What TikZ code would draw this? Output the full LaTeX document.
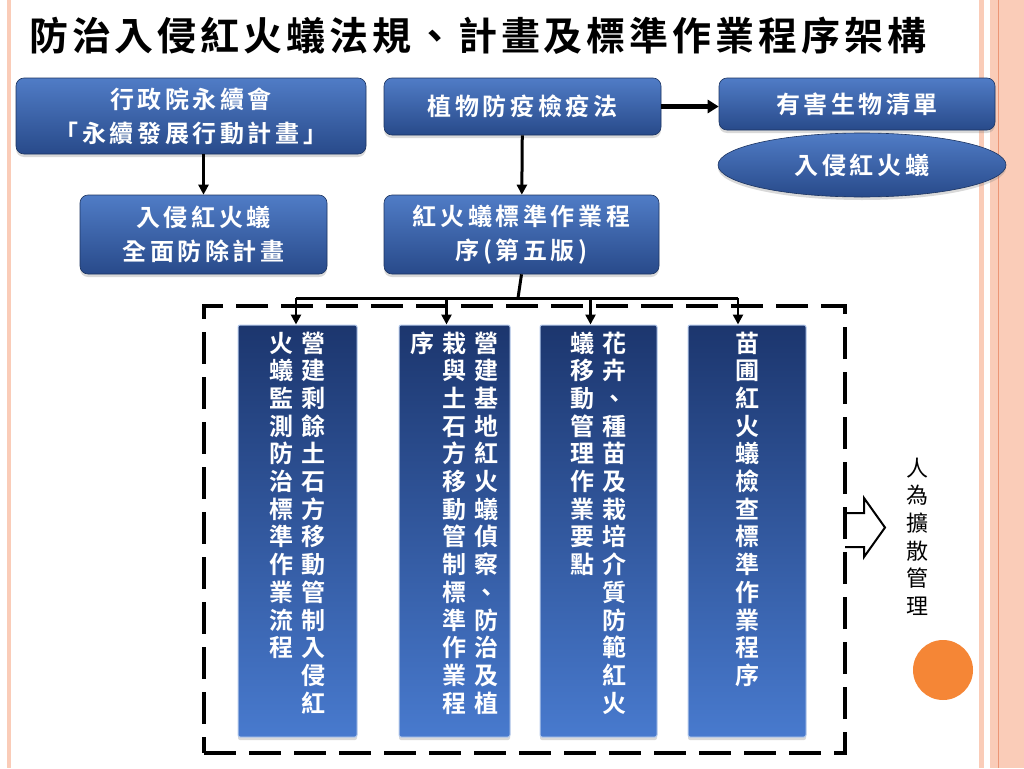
\documentclass[tikz,border=0pt]{standalone}
\usepackage{fontspec}
\newfontfamily\cjkr{Noto Sans CJK TC}
\newfontfamily\cjkb[LetterSpace=15]{Noto Sans CJK TC Bold}
\newfontfamily\cjkv{Noto Sans CJK TC Bold}
\newfontfamily\titlef[LetterSpace=10]{Noto Sans CJK TC Bold}
\usetikzlibrary{arrows.meta,shadows,shapes.geometric}
\definecolor{bxtop}{RGB}{80,124,198}
\definecolor{bxbot}{RGB}{40,74,138}
\definecolor{cltop}{RGB}{28,54,110}
\definecolor{clbot}{RGB}{72,122,206}
\definecolor{rim}{RGB}{250,204,184}
\definecolor{rimdk}{RGB}{236,150,118}
\definecolor{dotc}{RGB}{245,134,54}
\begin{document}
\begin{tikzpicture}[x=1pt,y=-1pt,
  blk/.style={rounded corners=8pt, top color=bxtop, bottom color=bxbot, draw=bxbot!70!black, line width=.6pt,
    text=white, align=center, font=\cjkb\fontsize{24}{34}\selectfont,
    drop shadow={shadow xshift=0pt,shadow yshift=-3pt,opacity=.3}},
  bar/.style={rounded corners=2pt, top color=cltop, bottom color=clbot, draw=clbot!40!white, line width=1pt,
    drop shadow={shadow xshift=0pt,shadow yshift=-3pt,opacity=.3}},
  vtxt/.style={text=white, inner sep=0pt, font=\cjkv\fontsize{24}{24}\selectfont},
  con/.style={line width=3pt, -{Triangle[width=10pt,length=10pt]}},
  frame/.style={draw, line width=4pt, dash pattern=on 32pt off 13pt}]
\def\vt#1{\vtop{\baselineskip=27.7pt\vtn#1\relax}}
\def\vtn#1{\ifx#1\relax\else\hbox to 32pt{\hss#1\hss}\expandafter\vtn\fi}
\useasboundingbox (0,0) rectangle (1024,768);
% page rims
\fill[rim] (7,0) rectangle (11,768);
\fill[rim] (979,0) rectangle (984,768);
\fill[rim] (990,0) rectangle (1024,768);
\draw[rimdk, line width=1pt] (998,0) -- (998,768);
% title
\node[anchor=base west, inner sep=0pt, font=\titlef\fontsize{39}{39}\selectfont] (title) at (29,50)
  {防治入侵紅火蟻法規、計畫及標準作業程序架構};
% top row
\node[blk, minimum width=350, minimum height=76] (council) at (191,116)
  {行政院永續會\\「永續發展行動計畫」};
\node[blk, minimum width=277, minimum height=57] (plantlaw) at (522.5,106.5) {植物防疫檢疫法};
\node[blk, minimum width=276, minimum height=52] (pestlist) at (857,104) {有害生物清單};
\node[blk, ellipse, minimum width=288, minimum height=64] (ant) at (862,165) {入侵紅火蟻};
\node[blk, minimum width=247, minimum height=79] (erad) at (203.5,234.5) {入侵紅火蟻\\全面防除計畫};
\node[blk, minimum width=275, minimum height=79] (sop) at (521.5,234.5) {紅火蟻標準作業程\\序(第五版)};
\draw[con] (council.south -| erad.north) -- (erad.north);
\draw[con] (plantlaw) -- (sop);
\draw[con, line width=5pt, -{Triangle[width=13pt,length=11pt]}] (plantlaw.east) -- (plantlaw.east -| pestlist.west);
% dashed group
\node[frame, minimum width=641, minimum height=447] (grp) at (524.5,529.5) {};
\node[bar, minimum width=119, minimum height=412] (c1) at (297.5,531) {};
\node[bar, minimum width=111, minimum height=412] (c2) at (454.5,531) {};
\node[bar, minimum width=117, minimum height=412] (c3) at (598.5,531) {};
\node[bar, minimum width=118, minimum height=412] (c4) at (747,531) {};
\node[vtxt, anchor=base] (t1) at (297.5,352) {\vt{火蟻監測防治標準作業流程}\vt{營建剩餘土石方移動管制入侵紅}};
\node[vtxt, anchor=base] (t2) at (454.5,352) {\vt{序}\vt{栽與土石方移動管制標準作業程}\vt{營建基地紅火蟻偵察、防治及植}};
\node[vtxt, anchor=base] (t3) at (598.5,352) {\vt{蟻移動管理作業要點}\vt{花卉、種苗及栽培介質防範紅火}};
\node[vtxt, anchor=base] (t4) at (747,352) {\vt{苗圃紅火蟻檢查標準作業程序}};
% bus to the four columns
\coordinate (bus) at (518,298);
\draw[line width=3pt] (sop.south) -- (bus);
\draw[line width=3pt] ([xshift=-1.5pt]c1.north |- bus) -- ([xshift=-9pt]c4.north |- bus);
\foreach \c/\dx in {c1/-1.5,c2/-8,c3/-8,c4/-9}
  \draw[con, line width=2.5pt] ([xshift=\dx pt]\c.north |- bus) -- ([xshift=\dx pt]\c.north);
% spread arrow and label
\draw[line width=2pt, line join=miter] (845,513) -- (864,513) -- (864,498) -- (885,527.5) -- (864,557) -- (864,547) -- (845,547);
\node[anchor=base, inner sep=0pt, font=\cjkr\fontsize{22}{22}\selectfont] (spread) at (917,476) {\vt{人為擴散管理}};
\node[circle, fill=dotc, minimum size=60, inner sep=0pt] (dot) at (943,670) {};
\end{tikzpicture}
\end{document}
